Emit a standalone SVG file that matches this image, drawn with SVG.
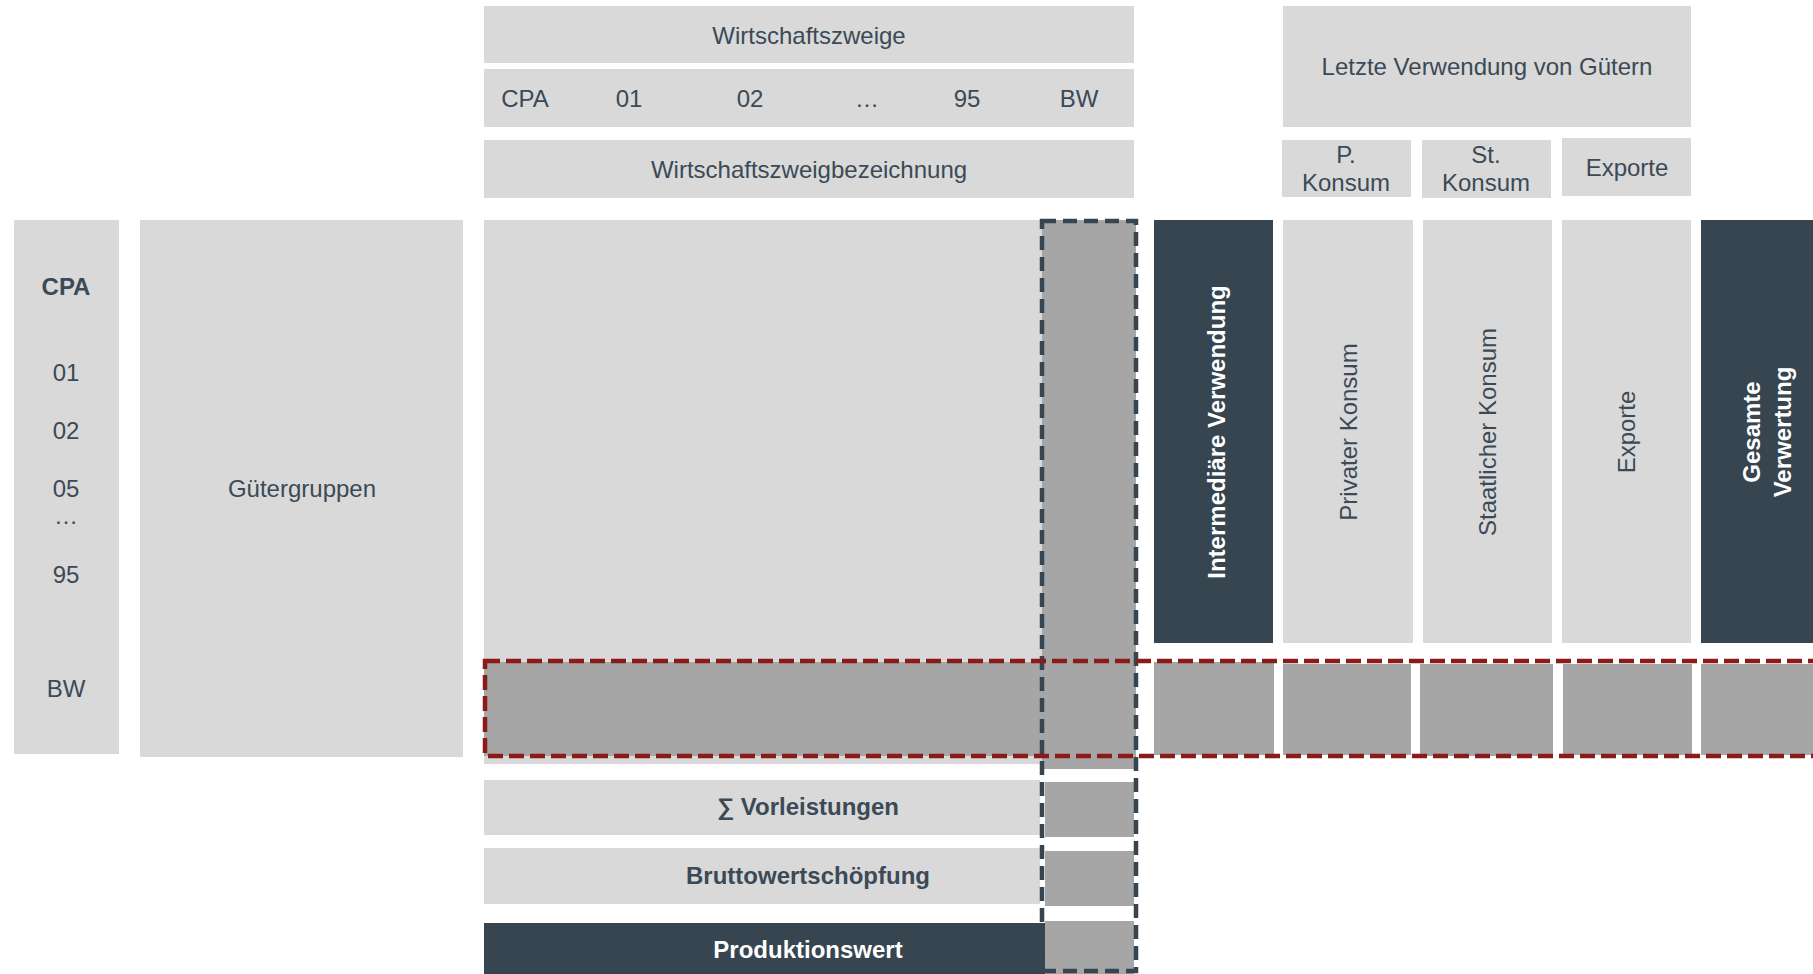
<svg xmlns="http://www.w3.org/2000/svg" width="1813" height="974" viewBox="0 0 1813 974">
<style>
.lt{fill:#d9d9d9}
.md{fill:#a6a6a6}
.dk{fill:#36454f}
text{font-family:"Liberation Sans",Arial,sans-serif;font-size:24px;fill:#3b4a56;text-anchor:middle}
.b{font-weight:bold}
.w{fill:#ffffff}
.hlD{fill:none;stroke:#36454f;stroke-width:4.5;stroke-dasharray:14 7}
.hlR{fill:none;stroke:#8b1a1a;stroke-width:4.5;stroke-dasharray:15 6}
</style>
<rect width="1813" height="974" fill="#ffffff"/>

<g id="wirtschaftszweige">
<rect class="lt" x="484" y="6" width="650" height="57"/>
<text x="809" y="44">Wirtschaftszweige</text>
</g>
<g id="cpa-header">
<rect class="lt" x="484" y="69" width="650" height="58"/>
<text x="525" y="107">CPA</text>
<text x="629" y="107">01</text>
<text x="750" y="107">02</text>
<text x="867" y="107">…</text>
<text x="967" y="107">95</text>
<text x="1079" y="107">BW</text>
</g>
<g id="wirtschaftszweigbezeichnung">
<rect class="lt" x="484" y="140" width="650" height="58"/>
<text x="809" y="178">Wirtschaftszweigbezeichnung</text>
</g>

<g id="letzte-verwendung">
<rect class="lt" x="1283" y="6" width="408" height="121"/>
<text x="1487" y="75">Letzte Verwendung von Gütern</text>
</g>
<g id="p-konsum-header">
<rect class="lt" x="1282" y="140" width="129" height="57"/>
<text x="1346" y="163">P.</text>
<text x="1346" y="191">Konsum</text>
</g>
<g id="st-konsum-header">
<rect class="lt" x="1422" y="140" width="129" height="58"/>
<text x="1486" y="163">St.</text>
<text x="1486" y="191">Konsum</text>
</g>
<g id="exporte-header">
<rect class="lt" x="1562" y="138" width="129" height="58"/>
<text x="1627" y="176">Exporte</text>
</g>

<g id="cpa-column">
<rect class="lt" x="14" y="220" width="105" height="534"/>
<text class="b" x="66" y="295">CPA</text>
<text x="66" y="381">01</text>
<text x="66" y="439">02</text>
<text x="66" y="497">05</text>
<text x="66" y="524">…</text>
<text x="66" y="583">95</text>
<text x="66" y="697">BW</text>
</g>
<g id="guetergruppen">
<rect class="lt" x="140" y="220" width="323" height="537"/>
<text x="302" y="497">Gütergruppen</text>
</g>

<g id="matrix">
<rect class="lt" x="484" y="220" width="558" height="544"/>
<rect class="md" x="1042" y="220" width="94" height="549"/>
<rect class="md" x="484" y="662" width="652" height="94"/>
</g>

<g id="intermediaere-verwendung">
<rect class="dk" x="1154" y="220" width="119" height="423"/>
<text class="b w" transform="translate(1225,432) rotate(-90)">Intermediäre Verwendung</text>
</g>
<g id="privater-konsum">
<rect class="lt" x="1283" y="220" width="130" height="423"/>
<text transform="translate(1357,432) rotate(-90)">Privater Konsum</text>
</g>
<g id="staatlicher-konsum">
<rect class="lt" x="1423" y="220" width="129" height="423"/>
<text transform="translate(1496,432) rotate(-90)">Staatlicher Konsum</text>
</g>
<g id="exporte">
<rect class="lt" x="1562" y="220" width="129" height="423"/>
<text transform="translate(1635,432) rotate(-90)">Exporte</text>
</g>
<g id="gesamte-verwertung">
<rect class="dk" x="1701" y="220" width="130" height="423"/>
<text class="b w" transform="translate(1760,432) rotate(-90)">Gesamte</text>
<text class="b w" transform="translate(1791,432) rotate(-90)">Verwertung</text>
</g>

<g id="bw-row-cells">
<rect class="md" x="1154" y="662" width="120" height="93"/>
<rect class="md" x="1283" y="664" width="128" height="91"/>
<rect class="md" x="1420" y="664" width="133" height="92"/>
<rect class="md" x="1563" y="664" width="129" height="91"/>
<rect class="md" x="1701" y="664" width="120" height="91"/>
</g>

<g id="vorleistungen">
<rect class="lt" x="484" y="780" width="556" height="55"/>
<text class="b" x="808" y="815">∑ Vorleistungen</text>
<rect class="md" x="1045" y="782" width="89" height="55"/>
</g>
<g id="bruttowertschoepfung">
<rect class="lt" x="484" y="848" width="556" height="56"/>
<text class="b" x="808" y="884">Bruttowertschöpfung</text>
<rect class="md" x="1045" y="851" width="89" height="55"/>
</g>
<g id="produktionswert">
<rect class="dk" x="484" y="923" width="561" height="51"/>
<text class="b w" x="808" y="958">Produktionswert</text>
<rect class="md" x="1045" y="921" width="89" height="53"/>
</g>

<g id="highlights">
<rect class="hlD" x="1042" y="221" width="94" height="750"/>
<rect class="hlR" x="485" y="661" width="1400" height="95"/>
</g>
</svg>
